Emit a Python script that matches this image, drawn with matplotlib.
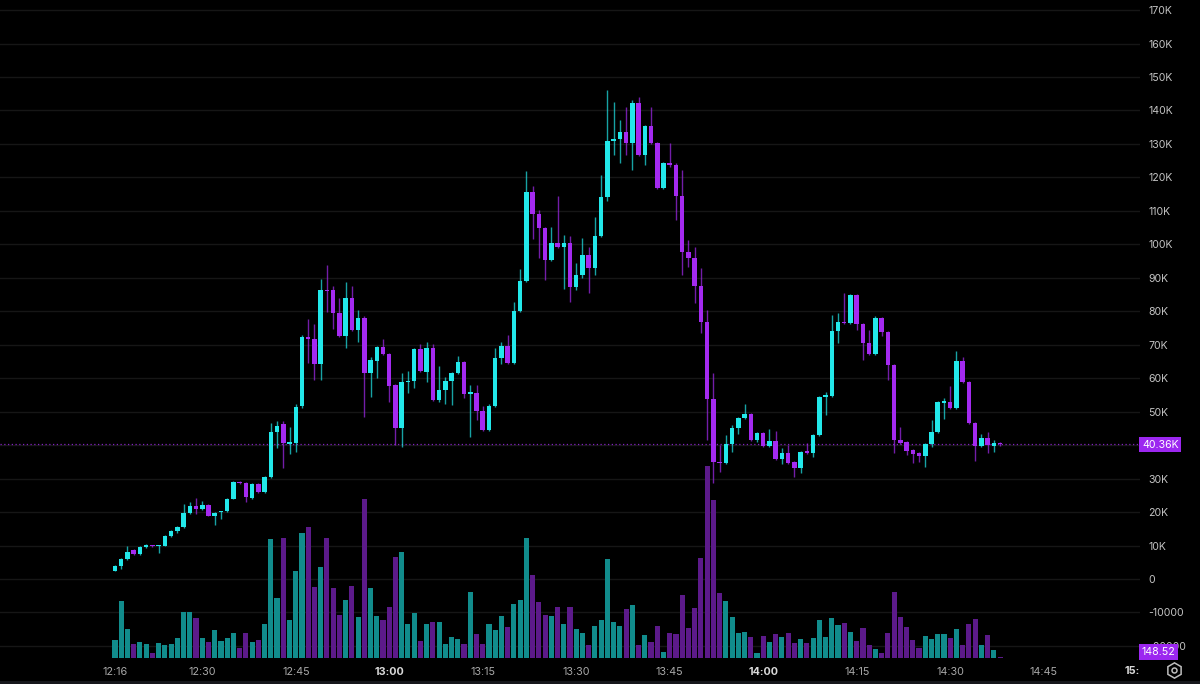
import numpy as np
import matplotlib
matplotlib.use("Agg")
import matplotlib.pyplot as plt
from matplotlib.lines import Line2D
from matplotlib.patches import Rectangle

plt.rcParams['font.family'] = ['Inter', 'DejaVu Sans']

# 1-minute candles from 12:16 (prices in K)
opens = [2.5, 3.9, 6.0, 8.7, 7.5, 9.6, 10.1, 9.9, 10.0, 12.8,
         14.3, 15.5, 19.7, 21.8, 20.8, 22.1, 18.9, 19.9, 20.2, 24.0,
         29.1, 28.7, 24.3, 28.4, 25.9, 30.5, 43.8, 46.3, 40.2, 40.6,
         51.6, 72.2, 71.8, 64.2, 86.5, 86.3, 79.6, 72.6, 83.9, 74.4,
         78.1, 61.6, 65.2, 69.2, 67.1, 58.0, 45.0, 58.8, 59.2, 68.7,
         61.9, 68.9, 53.5, 56.5, 59.2, 61.5, 64.9, 55.3, 55.7, 50.2,
         44.5, 51.8, 66.1, 69.7, 64.4, 80.1, 89.0, 115.7, 109.0, 105.0,
         95.3, 100.5, 99.1, 100.5, 87.3, 90.8, 96.8, 92.8, 102.5, 114.0,
         130.8, 131.5, 133.6, 130.4, 142.3, 126.7, 135.3, 130.2, 116.7, 124.4,
         123.7, 114.4, 97.8, 96.0, 87.5, 76.9, 53.7, 35.0, 34.6, 40.2,
         45.0, 48.0, 49.3, 41.5, 43.7, 39.7, 41.2, 35.9, 37.6, 35.0,
         33.1, 38.2, 37.7, 43.0, 54.3, 54.8, 74.2, 76.9, 76.4, 84.9,
         76.2, 70.4, 67.2, 78.1, 73.7, 63.9, 41.5, 40.8, 38.5, 37.6,
         36.8, 40.3, 43.8, 52.6, 53.0, 51.0, 65.2, 58.8, 46.5, 39.7,
         42.2, 39.7, 40.6]
highs = [4.2, 6.3, 10.0, 9.0, 9.8, 10.6, 10.3, 10.2, 13.0, 14.5,
         15.8, 22.4, 23.1, 24.3, 23.4, 22.4, 20.0, 20.4, 24.3, 29.2,
         29.3, 28.9, 28.6, 28.6, 30.9, 46.7, 47.3, 47.1, 45.5, 52.3,
         73.0, 77.6, 76.2, 89.5, 93.9, 87.5, 83.9, 88.8, 87.5, 80.4,
         78.5, 66.2, 69.5, 71.6, 67.5, 58.4, 61.5, 62.1, 69.0, 70.1,
         70.9, 70.1, 63.6, 60.4, 61.8, 66.6, 65.2, 58.0, 58.0, 51.7,
         52.2, 68.9, 70.9, 72.9, 82.8, 92.5, 121.9, 117.5, 110.2, 105.3,
         105.1, 114.4, 102.8, 102.5, 94.5, 101.8, 99.3, 108.2, 120.7, 146.1,
         142.6, 137.1, 140.9, 143.0, 144.1, 135.6, 140.9, 130.5, 124.5, 130.2,
         124.2, 122.2, 101.3, 99.3, 92.8, 80.4, 61.5, 40.0, 43.0, 46.0,
         48.3, 52.3, 49.6, 44.0, 44.0, 44.7, 44.3, 39.0, 40.0, 35.3,
         38.3, 40.5, 43.3, 54.6, 56.0, 78.9, 79.4, 85.4, 85.2, 85.2,
         76.5, 74.4, 78.6, 78.4, 74.0, 64.2, 45.5, 41.1, 38.8, 37.9,
         40.6, 47.5, 53.1, 54.0, 57.7, 68.1, 66.2, 59.1, 46.8, 43.3,
         44.0, 41.5, 41.0]
lows = [2.3, 3.0, 5.8, 7.3, 7.2, 9.2, 9.6, 7.9, 9.8, 12.6,
        13.8, 15.3, 19.5, 19.4, 20.5, 18.7, 16.0, 17.8, 20.0, 23.8,
        28.4, 23.1, 24.0, 25.7, 25.6, 30.3, 39.1, 33.2, 37.3, 38.0,
        51.0, 64.4, 59.5, 59.5, 79.9, 74.6, 72.3, 68.9, 74.0, 70.9,
        48.5, 54.5, 60.0, 66.8, 53.0, 40.0, 39.5, 55.5, 57.0, 61.9,
        58.9, 53.2, 53.0, 52.3, 52.0, 61.2, 54.0, 42.5, 47.5, 44.2,
        44.2, 51.5, 64.1, 64.1, 64.1, 79.8, 88.7, 101.5, 95.8, 89.3,
        95.0, 98.8, 86.6, 82.9, 86.3, 89.8, 85.4, 90.8, 102.2, 113.0,
        126.7, 124.2, 126.7, 122.2, 126.4, 123.7, 129.9, 116.4, 116.4, 123.0,
        107.3, 90.8, 93.3, 82.4, 73.4, 41.5, 28.6, 32.1, 34.3, 38.0,
        43.3, 47.7, 41.2, 41.0, 39.4, 39.4, 35.6, 34.4, 34.4, 30.6,
        31.6, 37.4, 36.5, 42.7, 49.0, 54.5, 70.4, 76.1, 76.1, 74.4,
        65.4, 66.9, 66.9, 72.6, 59.5, 37.7, 40.4, 37.0, 34.7, 35.0,
        33.4, 39.5, 43.5, 47.7, 50.7, 50.7, 58.7, 46.2, 35.3, 39.4,
        37.7, 38.0, 39.8]
closes = [4.0, 6.0, 8.2, 7.5, 9.6, 10.2, 9.8, 10.0, 12.8, 14.3,
          15.6, 19.7, 21.8, 20.9, 22.1, 18.9, 19.7, 20.2, 24.0, 28.9,
          28.6, 24.6, 28.4, 25.9, 30.5, 43.8, 45.8, 40.6, 41.0, 51.5,
          72.3, 71.7, 64.2, 86.3, 86.1, 79.6, 72.6, 83.9, 74.4, 78.1,
          61.6, 65.4, 69.2, 67.1, 57.8, 45.2, 58.8, 59.3, 68.7, 62.2,
          68.9, 53.5, 56.5, 59.2, 61.5, 64.9, 55.3, 55.8, 50.2, 44.5,
          51.8, 66.1, 69.7, 64.4, 80.1, 89.0, 115.7, 109.0, 105.0, 95.3,
          100.5, 99.1, 100.5, 87.3, 90.8, 96.8, 92.8, 102.5, 114.0, 130.9,
          131.5, 133.6, 130.4, 142.3, 126.7, 135.3, 130.2, 116.7, 124.2, 123.7,
          114.4, 97.8, 96.0, 87.5, 76.9, 53.7, 35.0, 34.6, 40.2, 45.0,
          48.0, 49.3, 41.5, 43.7, 39.7, 41.2, 35.9, 37.6, 34.7, 33.1,
          38.0, 37.7, 43.0, 54.3, 55.0, 74.2, 76.9, 76.4, 84.9, 76.2,
          70.4, 67.2, 78.1, 73.7, 63.9, 41.5, 40.7, 38.3, 37.3, 36.8,
          40.3, 43.8, 52.8, 53.1, 51.0, 65.2, 59.0, 46.5, 39.7, 42.2,
          40.0, 40.7, 40.36]
volumes = [1830, 5770, 2930, 1430, 1670, 1400, 570, 1530, 1300, 1400,
           2070, 4670, 4670, 4000, 2000, 1630, 2800, 1730, 2000, 2500,
           1070, 2500, 1630, 1830, 3430, 11930, 6070, 12030, 3830, 8770,
           12500, 13100, 7170, 9100, 12000, 7070, 4370, 5830, 7200, 4130,
           15900, 7000, 4270, 3830, 5100, 10100, 10600, 3400, 4500, 1730,
           3430, 3670, 3670, 1430, 2170, 1900, 1430, 6670, 2430, 1430,
           3400, 2830, 4230, 3170, 5400, 5830, 12000, 8330, 5670, 4330,
           4230, 5100, 3400, 5170, 2930, 2500, 1330, 3270, 3830, 9930,
           3670, 3230, 4930, 5330, 1330, 2330, 1670, 3270, 670, 2500,
           2430, 6330, 3070, 5000, 10000, 19230, 15830, 6500, 5770, 4100,
           2570, 2630, 2100, 570, 2270, 1670, 2400, 2100, 2500, 1530,
           1900, 1570, 2000, 3830, 2170, 4070, 3330, 3500, 2600, 1700,
           3000, 1300, 970, 570, 2570, 6670, 4170, 3170, 1800, 1000,
           2230, 1970, 2470, 2400, 2070, 2900, 1330, 3400, 3930, 1330,
           2330, 830, 148.52]

time_ticks = [0, 14, 29, 44, 59, 74, 89, 104, 119, 134, 149]
time_labels = ['12:16', '12:30', '12:45', '13:00', '13:15', '13:30',
               '13:45', '14:00', '14:15', '14:30', '14:45']
# 40K sits under the last-price badge, so it is left blank
price_ticks = list(range(-20000, 170001, 10000))
price_labels = ['' if v == 40000 else (f"{v // 1000}K" if v > 0 else str(v))
                for v in price_ticks]

UP, DOWN = '#22e8ea', '#a42af0'
UP_VOL, DOWN_VOL = '#118c8c', '#5c1a8a'
BG = '#000000'

o = np.array(opens) * 1000
h = np.array(highs) * 1000
l = np.array(lows) * 1000
c = np.array(closes) * 1000
v = np.array(volumes)
x = np.arange(len(o))
up = c >= o

W, H = 1200, 684
fig = plt.figure(figsize=(W / 100, H / 100), dpi=100, facecolor=BG)
rect = [0, 24 / H, 1140 / W, 660 / H]
XLIM = (-18.45, 164.45)

# price pane (bottom layer: grid + candles)
ax = fig.add_axes(rect, facecolor=BG)
ax.set_xlim(*XLIM)
ax.set_ylim(-24200, 173000)
ax.set_yticks(price_ticks)
ax.set_yticklabels(price_labels)
ax.yaxis.tick_right()
ax.tick_params(axis='y', length=0, pad=6, labelcolor='#c4c4c4', labelsize=7.6)
ax.set_xticks(time_ticks)
ax.set_xticklabels(time_labels)
ax.tick_params(axis='x', length=0, pad=5, labelcolor='#a8a8a8', labelsize=7.8)
for t in ax.get_xticklabels():
    if t.get_text() in ('13:00', '14:00'):
        t.set_fontweight('bold')
        t.set_color('#d8d8d8')
ax.grid(axis='y', color='#161616', lw=1)
ax.set_axisbelow(True)
for s in ax.spines.values():
    s.set_visible(False)

ax.axhline(c[-1], color=DOWN, lw=0.9, ls=(0, (1, 2)), alpha=0.8, zorder=1)

colors = np.where(up, UP, DOWN)
ax.vlines(x, l, h, colors=colors, lw=1, alpha=0.7, zorder=2)
body_bot = np.minimum(o, c)
body_h = np.maximum(np.abs(c - o), 350)
ax.bar(x, body_h, bottom=body_bot, width=0.72, color=colors, zorder=3, linewidth=0)

# volume pane overlay
vax = fig.add_axes(rect, facecolor='none')
vax.set_xlim(*XLIM)
vax.set_ylim(-170, 65830)
vax.bar(x, v, width=0.82, color=np.where(up, UP_VOL, DOWN_VOL), linewidth=0)
vax.axis('off')

# last price / last volume labels
fig.text(1142 / W, 1 - 444.5 / H, '40.36K', ha='left', va='center', color='white',
         fontsize=7.6, bbox=dict(boxstyle='square,pad=0.25', fc='#9c27f0', ec='none'))
fig.text(1142 / W, 1 - 652 / H, '148.52', ha='left', va='center', color='white',
         fontsize=7.6, bbox=dict(boxstyle='square,pad=0.25', fc='#9c27f0', ec='none'))

# clipped "15:" time label, bottom strip and settings icon
fig.text(1125 / W, 1 - 671 / H, '15:', ha='left', va='center', color='#d8d8d8',
         fontsize=7.8, fontweight='bold')
fig.add_artist(Rectangle((0, 0), 1, 3.5 / H, transform=fig.transFigure,
                         facecolor='#16171b', edgecolor='none'))
fig.add_artist(Line2D([1174 / W], [1 - 670 / H], marker='h', ms=11, mfc='none',
                      mec='#bdbdbd', mew=1.1, transform=fig.transFigure))
fig.add_artist(Line2D([1174 / W], [1 - 670 / H], marker='o', ms=3.6, mfc='none',
                      mec='#bdbdbd', mew=1.1, transform=fig.transFigure))

fig.savefig('out.png', dpi=100, facecolor=BG)
